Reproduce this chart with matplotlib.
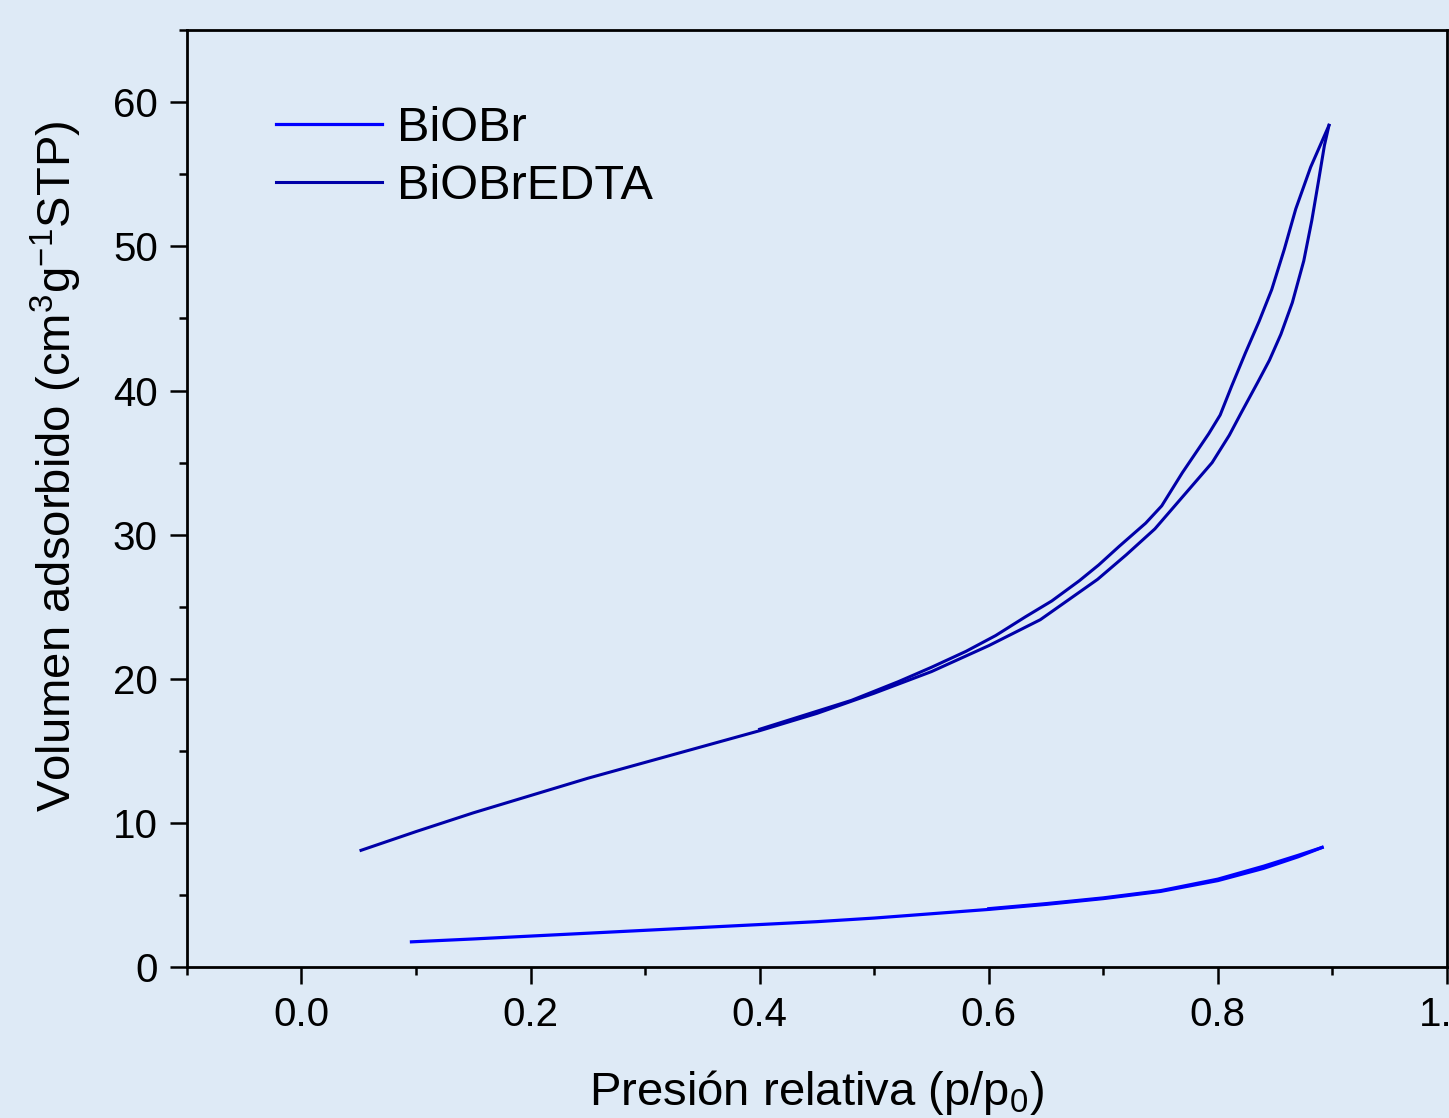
import matplotlib

matplotlib.use("Agg")

import matplotlib.pyplot as plt
from matplotlib.ticker import MultipleLocator

# -----------------------------
# Datos
# -----------------------------
# BiOBr (adsorción y desorción casi superpuestas)
biobr_ads_x = [0.096, 0.15, 0.20, 0.25, 0.30, 0.35, 0.40, 0.45, 0.50, 0.55,
               0.60, 0.65, 0.70, 0.75, 0.80, 0.84, 0.87, 0.891]
biobr_ads_y = [1.75, 1.95, 2.15, 2.35, 2.55, 2.75, 2.95, 3.15, 3.40, 3.70,
               4.00, 4.35, 4.75, 5.25, 6.00, 6.85, 7.65, 8.30]
biobr_des_x = [0.891, 0.87, 0.84, 0.80, 0.75, 0.70, 0.65, 0.60]
biobr_des_y = [8.30, 7.75, 7.00, 6.10, 5.30, 4.80, 4.40, 4.05]

# BiOBrEDTA: rama de adsorción (inferior en el lazo)
edta_ads_x = [0.052, 0.10, 0.15, 0.20, 0.25, 0.30, 0.35, 0.40, 0.45, 0.50,
              0.55, 0.60, 0.62, 0.645, 0.67, 0.695, 0.72, 0.745, 0.77, 0.795,
              0.81, 0.82, 0.835, 0.845, 0.855, 0.865, 0.875, 0.882, 0.888,
              0.893, 0.897]
edta_ads_y = [8.1, 9.4, 10.7, 11.9, 13.1, 14.2, 15.3, 16.4, 17.6, 19.0,
              20.5, 22.3, 23.1, 24.1, 25.5, 26.9, 28.6, 30.4, 32.7, 35.0,
              36.9, 38.4, 40.6, 42.1, 43.9, 46.1, 49.0, 51.8, 54.6,
              57.0, 58.4]
# BiOBrEDTA: rama de desorción (superior en el lazo)
edta_des_x = [0.897, 0.881, 0.868, 0.858, 0.847, 0.836, 0.824, 0.812, 0.802,
              0.792, 0.769, 0.751, 0.737, 0.714, 0.696, 0.679, 0.655, 0.632,
              0.606, 0.580, 0.550, 0.521, 0.48, 0.44, 0.40]
edta_des_y = [58.4, 55.5, 52.6, 49.8, 47.0, 44.8, 42.6, 40.3, 38.3,
              37.0, 34.3, 32.0, 30.8, 29.2, 27.9, 26.8, 25.4, 24.3,
              23.0, 21.9, 20.8, 19.8, 18.5, 17.5, 16.5]

# -----------------------------
# Estilo
# -----------------------------
BG = "#DEEAF6"
C_BIOBR = "#0000FF"
C_EDTA = "#0000A8"

plt.rcParams["font.family"] = ["Liberation Sans", "DejaVu Sans"]
plt.rcParams["mathtext.fontset"] = "custom"
plt.rcParams["mathtext.rm"] = "Liberation Sans"
plt.rcParams["mathtext.it"] = "Liberation Sans:italic"
plt.rcParams["mathtext.default"] = "regular"

fig = plt.figure(figsize=(14.49, 11.18), dpi=100)
fig.patch.set_facecolor(BG)
ax = fig.add_axes([0.129, 0.135, 0.8696, 0.838])
ax.set_facecolor(BG)

ax.plot(biobr_ads_x, biobr_ads_y, color=C_BIOBR, lw=2.3, label="BiOBr")
ax.plot(biobr_des_x, biobr_des_y, color=C_BIOBR, lw=2.3)
ax.plot(edta_ads_x, edta_ads_y, color=C_EDTA, lw=2.2, label="BiOBrEDTA")
ax.plot(edta_des_x, edta_des_y, color=C_EDTA, lw=2.2)

ax.set_xlim(-0.1, 1.0)
ax.set_ylim(0, 65)
ax.xaxis.set_major_locator(MultipleLocator(0.2))
ax.xaxis.set_minor_locator(MultipleLocator(0.1))
ax.yaxis.set_major_locator(MultipleLocator(10))
ax.yaxis.set_minor_locator(MultipleLocator(5))
ax.xaxis.set_major_formatter(plt.FuncFormatter(lambda v, p: f"{v:.1f}"))
ax.yaxis.set_major_formatter(plt.FuncFormatter(lambda v, p: f"{v:.0f}"))

for s in ax.spines.values():
    s.set_linewidth(2.0)
    s.set_color("black")

ax.tick_params(which="both", direction="out", width=1.8, colors="black",
               top=False, right=False)
ax.tick_params(which="major", length=12, labelsize=29, pad=9)
ax.tick_params(which="minor", length=6)

ax.set_xlabel("Presión relativa (p/p$_0$)", fontsize=34, labelpad=24)
ax.set_ylabel("Volumen adsorbido (cm$^3$g$^{-1}$STP)", fontsize=34)
ax.yaxis.set_label_coords(-0.082, 0.535)

ax.legend(loc="upper left", bbox_to_anchor=(0.055, 0.94), frameon=False,
          fontsize=35, handlelength=2.18, handletextpad=0.31, labelspacing=0.28,
          borderaxespad=0)

plt.savefig("out.png", dpi=100, facecolor=BG)
